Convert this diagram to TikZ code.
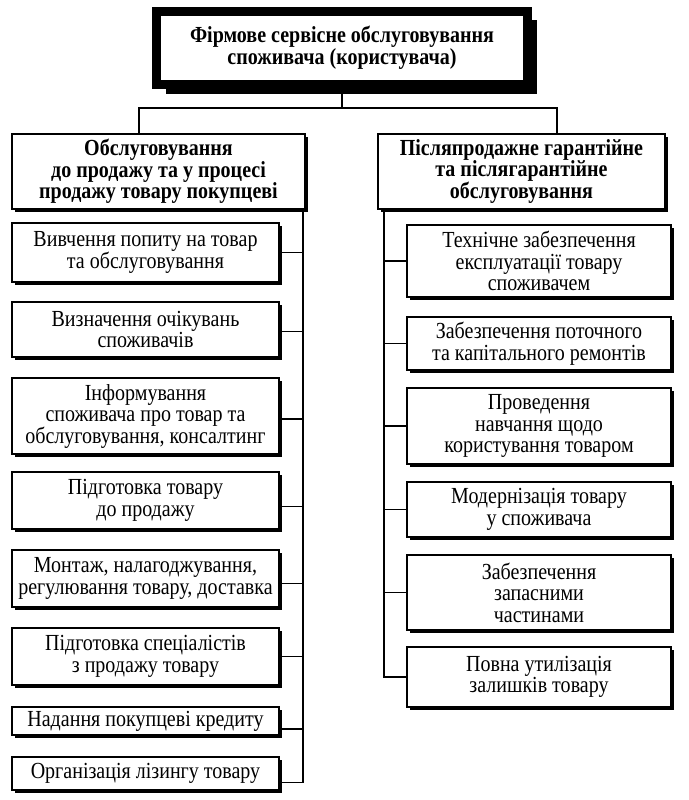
\documentclass[tikz,border=0pt]{standalone}
\usepackage{fontspec}
\setmainfont{Liberation Serif}[FakeStretch=0.87]
\usetikzlibrary{shadows}
\tikzset{
  item/.style={draw, line width=1.2pt, fill=white, align=center, inner sep=0pt,
    font=\fontsize{23}{21.5}\selectfont,
    drop shadow={shadow xshift=3pt, shadow yshift=-3pt, fill=black, opacity=1}},
  head/.style={item, font=\bfseries\fontsize{23}{21.5}\selectfont},
  lbox/.style={item, minimum width=267pt},
  rbox/.style={item, minimum width=264pt},
  wire/.style={line width=1.5pt},
}
\begin{document}
\begin{tikzpicture}[x=1pt, y=-1pt]
  \useasboundingbox (0,0) rectangle (688,800);
  \node (top) at (342,48) [head, line width=9pt, minimum width=371pt, minimum height=73pt,
    drop shadow={shadow xshift=9pt, shadow yshift=-9pt, fill=black, opacity=1}]
    {Фірмове сервісне обслуговування\\споживача (користувача)};
  \node (pre) at (158.5,171.5) [head, minimum width=293pt, minimum height=75pt]
    {Обслуговування\\до продажу та у процесі\\продажу товару покупцеві};
  \node (post) at (521.5,171.5) [head, minimum width=287pt, minimum height=75pt]
    {Післяпродажне гарантійне\\та післягарантійне\\обслуговування};

  \node (l1) at (145.5,252.5) [lbox, minimum height=59pt] {Вивчення попиту на товар\\та обслуговування};
  \node (l2) at (145.5,329.5) [lbox, minimum height=55pt] {Визначення очікувань\\споживачів};
  \node (l3) at (145.5,416) [lbox, minimum height=76pt] {Інформування\\споживача про товар та\\обслуговування, консалтинг};
  \node (l4) at (145.5,500.5) [lbox, minimum height=57pt] {Підготовка товару\\до продажу};
  \node (l5) at (145.5,578.5) [lbox, minimum height=57pt] {Монтаж, налагоджування,\\регулювання товару, доставка};
  \node (l6) at (145.5,656.5) [lbox, minimum height=57pt] {Підготовка спеціалістів\\з продажу товару};
  \node (l7) at (145.5,721) [lbox, minimum height=28pt] {Надання покупцеві кредиту};
  \node (l8) at (145.5,773.5) [lbox, minimum height=33pt] {Організація лізингу товару};

  \node (r1) at (539,261) [rbox, minimum height=72pt] {Технічне забезпечення\\експлуатації товару\\споживачем};
  \node (r2) at (539,343.5) [rbox, minimum height=53pt] {Забезпечення поточного\\та капітального ремонтів};
  \node (r3) at (539,426) [rbox, minimum height=76pt] {Проведення\\навчання щодо\\користування товаром};
  \node (r4) at (539,509.5) [rbox, minimum height=55pt] {Модернізація товару\\у споживача};
  \node (r5) at (539,592.5) [rbox, minimum height=75pt] {Забезпечення\\запасними\\частинами};
  \node (r6) at (539,677) [rbox, minimum height=60pt] {Повна утилізація\\залишків товару};

  \coordinate (fork) at (342,108);
  \coordinate (lsp) at (303,0);
  \coordinate (rsp) at (384,0);
  \draw[wire] (top.south) -- (fork);
  \draw[wire] ([xshift=-19.5pt]pre.north) |- (fork) -| ([xshift=35.5pt]post.north);
  \draw[wire] (pre.south -| lsp) |- ([yshift=-9pt]l8.east);
  \foreach \n/\dy in {l1/0,l2/-2,l3/-3,l4/-6,l5/-5,l6/0,l7/-8}
    \draw[wire] ([yshift=\dy pt]\n.east) -- ([yshift=\dy pt]\n.east -| lsp);
  \draw[wire] (post.south -| rsp) |- (r6.west);
  \foreach \n in {r1,r2,r3,r4,r5}
    \draw[wire] (\n.west) -- (\n.west -| rsp);
\end{tikzpicture}
\end{document}
